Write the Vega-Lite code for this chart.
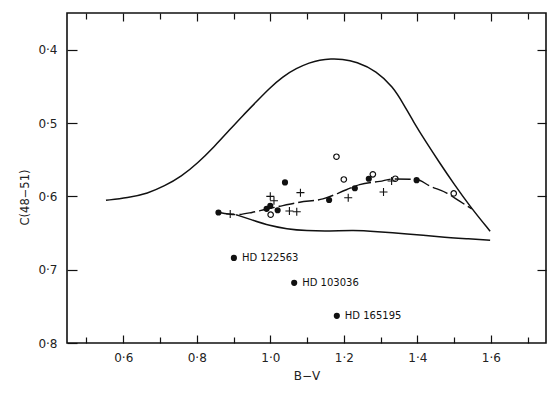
{
  "$schema": "https://vega.github.io/schema/vega-lite/v6.json",
  "width": 479,
  "height": 330,
  "autosize": {"type": "none"},
  "padding": {"left": 67, "top": 13, "right": 14, "bottom": 51},
  "background": "white",
  "config": {
    "font": "DejaVu Sans",
    "view": {"stroke": "#111", "strokeWidth": 1.6},
    "axis": {
      "labelFont": "DejaVu Sans",
      "titleFont": "DejaVu Sans",
      "labelColor": "#222",
      "titleColor": "#222",
      "tickColor": "#111",
      "tickWidth": 1.2,
      "domain": false,
      "grid": false,
      "labelFontSize": 12,
      "titleFontSize": 12,
      "titleFontWeight": "normal"
    }
  },
  "datasets": {
    "upper": [
      {"bv": 0.553, "c": 0.6054}, {"bv": 0.612, "c": 0.602}, {"bv": 0.667, "c": 0.596},
      {"bv": 0.712, "c": 0.586}, {"bv": 0.758, "c": 0.573}, {"bv": 0.803, "c": 0.5545},
      {"bv": 0.848, "c": 0.532}, {"bv": 0.890, "c": 0.509}, {"bv": 0.925, "c": 0.490},
      {"bv": 0.962, "c": 0.471}, {"bv": 0.998, "c": 0.4525}, {"bv": 1.034, "c": 0.4367},
      {"bv": 1.071, "c": 0.4253}, {"bv": 1.107, "c": 0.4177}, {"bv": 1.134, "c": 0.414},
      {"bv": 1.165, "c": 0.4125}, {"bv": 1.195, "c": 0.4128},
      {"bv": 1.234, "c": 0.4163}, {"bv": 1.289, "c": 0.429}, {"bv": 1.334, "c": 0.451},
      {"bv": 1.361, "c": 0.473}, {"bv": 1.389, "c": 0.498}, {"bv": 1.425, "c": 0.527},
      {"bv": 1.461, "c": 0.5545}, {"bv": 1.498, "c": 0.582}, {"bv": 1.543, "c": 0.6136},
      {"bv": 1.598, "c": 0.6476}
    ],
    "lower": [
      {"bv": 0.907, "c": 0.625}, {"bv": 0.953, "c": 0.6327}, {"bv": 0.998, "c": 0.640},
      {"bv": 1.044, "c": 0.6444}, {"bv": 1.098, "c": 0.647}, {"bv": 1.162, "c": 0.6476},
      {"bv": 1.225, "c": 0.6462}, {"bv": 1.289, "c": 0.648}, {"bv": 1.371, "c": 0.651},
      {"bv": 1.461, "c": 0.6553}, {"bv": 1.543, "c": 0.658}, {"bv": 1.598, "c": 0.6599}
    ],
    "mean": [
      {"bv": 0.862, "c": 0.622}, {"bv": 0.907, "c": 0.625}, {"bv": 0.950, "c": 0.622},
      {"bv": 0.985, "c": 0.618}, {"bv": 1.025, "c": 0.6136}, {"bv": 1.080, "c": 0.608},
      {"bv": 1.143, "c": 0.6035}, {"bv": 1.207, "c": 0.591}, {"bv": 1.243, "c": 0.584},
      {"bv": 1.298, "c": 0.5796}, {"bv": 1.334, "c": 0.5763}, {"bv": 1.398, "c": 0.577},
      {"bv": 1.434, "c": 0.586}, {"bv": 1.480, "c": 0.5955}, {"bv": 1.516, "c": 0.607},
      {"bv": 1.548, "c": 0.617}
    ],
    "stars": [
      {"bv": 0.859, "c": 0.622, "type": "filled", "label": ""},
      {"bv": 0.990, "c": 0.617, "type": "filled", "label": ""},
      {"bv": 1.000, "c": 0.613, "type": "filled", "label": ""},
      {"bv": 1.020, "c": 0.619, "type": "filled", "label": ""},
      {"bv": 1.040, "c": 0.581, "type": "filled", "label": ""},
      {"bv": 1.160, "c": 0.605, "type": "filled", "label": ""},
      {"bv": 1.230, "c": 0.589, "type": "filled", "label": ""},
      {"bv": 1.268, "c": 0.576, "type": "filled", "label": ""},
      {"bv": 1.398, "c": 0.578, "type": "filled", "label": ""},
      {"bv": 0.901, "c": 0.684, "type": "filled", "label": "HD 122563"},
      {"bv": 1.065, "c": 0.718, "type": "filled", "label": "HD 103036"},
      {"bv": 1.181, "c": 0.763, "type": "filled", "label": "HD 165195"},
      {"bv": 1.001, "c": 0.625, "type": "open", "label": ""},
      {"bv": 1.180, "c": 0.546, "type": "open", "label": ""},
      {"bv": 1.200, "c": 0.577, "type": "open", "label": ""},
      {"bv": 1.279, "c": 0.570, "type": "open", "label": ""},
      {"bv": 1.340, "c": 0.576, "type": "open", "label": ""},
      {"bv": 1.499, "c": 0.596, "type": "open", "label": ""},
      {"bv": 0.891, "c": 0.624, "type": "plus", "label": ""},
      {"bv": 1.000, "c": 0.600, "type": "plus", "label": ""},
      {"bv": 1.010, "c": 0.606, "type": "plus", "label": ""},
      {"bv": 1.052, "c": 0.620, "type": "plus", "label": ""},
      {"bv": 1.072, "c": 0.621, "type": "plus", "label": ""},
      {"bv": 1.082, "c": 0.595, "type": "plus", "label": ""},
      {"bv": 1.212, "c": 0.602, "type": "plus", "label": ""},
      {"bv": 1.308, "c": 0.594, "type": "plus", "label": ""},
      {"bv": 1.330, "c": 0.579, "type": "plus", "label": ""}
    ]
  },
  "resolve": {"scale": {"x": "shared", "y": "shared"}, "axis": {"x": "independent", "y": "independent"}},
  "layer": [
    {
      "data": {"name": "upper"},
      "mark": {"type": "line", "interpolate": "basis", "color": "#111", "strokeWidth": 1.5},
      "encoding": {
        "x": {"field": "bv", "type": "quantitative", "scale": {"domain": [0.447, 1.75], "nice": false, "zero": false},
          "axis": {"orient": "bottom", "values": [0.6, 0.8, 1.0, 1.2, 1.4, 1.6], "offset": -8, "tickSize": 8, "labelPadding": 9,
            "labelExpr": "replace(format(datum.value, '.1f'), '.', '·')", "title": "B−V", "titleY": 40, "titleBaseline": "middle"}},
        "y": {"field": "c", "type": "quantitative", "scale": {"domain": [0.35, 0.8], "reverse": true, "nice": false, "zero": false},
          "axis": {"orient": "left", "values": [0.4, 0.5, 0.6, 0.7, 0.8], "offset": -10, "tickSize": 10, "labelPadding": 10, "labelBaseline": "middle",
            "labelExpr": "replace(format(datum.value, '.1f'), '.', '·')", "title": "C(48−51)", "titleFontSize": 11.5, "titleX": -52, "titleY": 184,
            "titleAlign": "center", "titleBaseline": "middle", "titleAngle": 270}},
        "order": {"field": "bv"}
      }
    },
    {
      "data": {"name": "lower"},
      "mark": {"type": "line", "interpolate": "basis", "color": "#111", "strokeWidth": 1.5},
      "encoding": {
        "x": {"field": "bv", "type": "quantitative", "scale": {"domain": [0.447, 1.75], "nice": false, "zero": false},
          "axis": {"orient": "bottom", "values": [0.5, 0.7, 0.9, 1.1, 1.3, 1.5, 1.7], "offset": -6, "tickSize": 6, "labels": false, "title": null}},
        "y": {"field": "c", "type": "quantitative", "scale": {"domain": [0.35, 0.8], "reverse": true, "nice": false, "zero": false},
          "axis": {"orient": "right", "values": [0.4, 0.5, 0.6, 0.7], "offset": -9, "tickSize": 9, "labels": false, "title": null}},
        "order": {"field": "bv"}
      }
    },
    {
      "data": {"name": "mean"},
      "mark": {"type": "line", "interpolate": "monotone", "color": "#111", "strokeWidth": 1.4, "strokeDash": [16, 4]},
      "encoding": {
        "x": {"field": "bv", "type": "quantitative", "scale": {"domain": [0.447, 1.75], "nice": false, "zero": false},
          "axis": {"orient": "top", "values": [0.6, 0.8, 1.0, 1.2, 1.4, 1.6], "offset": -8, "tickSize": 8, "labels": false, "title": null}},
        "y": {"field": "c", "type": "quantitative", "scale": {"domain": [0.35, 0.8], "reverse": true, "nice": false, "zero": false}, "axis": null},
        "order": {"field": "bv"}
      }
    },
    {
      "data": {"name": "stars"},
      "transform": [{"filter": "datum.type === 'filled'"}],
      "mark": {"type": "point", "shape": "circle", "filled": true, "color": "#111", "size": 38, "opacity": 1},
      "encoding": {
        "x": {"field": "bv", "type": "quantitative", "scale": {"domain": [0.447, 1.75], "nice": false, "zero": false},
          "axis": {"orient": "top", "values": [0.5, 0.7, 0.9, 1.1, 1.3, 1.5, 1.7], "offset": -6, "tickSize": 6, "labels": false, "title": null}},
        "y": {"field": "c", "type": "quantitative", "scale": {"domain": [0.35, 0.8], "reverse": true, "nice": false, "zero": false}, "axis": null}
      }
    },
    {
      "data": {"name": "stars"},
      "transform": [{"filter": "datum.type === 'open'"}],
      "mark": {"type": "point", "shape": "circle", "filled": false, "color": "#111", "size": 30, "strokeWidth": 1.2, "opacity": 1},
      "encoding": {
        "x": {"field": "bv", "type": "quantitative", "scale": {"domain": [0.447, 1.75], "nice": false, "zero": false}, "axis": null},
        "y": {"field": "c", "type": "quantitative", "scale": {"domain": [0.35, 0.8], "reverse": true, "nice": false, "zero": false}, "axis": null}
      }
    },
    {
      "data": {"name": "stars"},
      "transform": [{"filter": "datum.type === 'plus'"}],
      "mark": {"type": "point", "shape": "M-1,0H1M0,-1V1", "filled": false, "color": "#111", "size": 64, "strokeWidth": 1.1, "opacity": 1},
      "encoding": {
        "x": {"field": "bv", "type": "quantitative", "scale": {"domain": [0.447, 1.75], "nice": false, "zero": false}, "axis": null},
        "y": {"field": "c", "type": "quantitative", "scale": {"domain": [0.35, 0.8], "reverse": true, "nice": false, "zero": false}, "axis": null}
      }
    },
    {
      "data": {"name": "stars"},
      "transform": [{"filter": "datum.label !== ''"}],
      "mark": {"type": "text", "align": "left", "baseline": "middle", "dx": 8, "fontSize": 10, "color": "#111", "font": "DejaVu Sans"},
      "encoding": {
        "x": {"field": "bv", "type": "quantitative", "scale": {"domain": [0.447, 1.75], "nice": false, "zero": false}, "axis": null},
        "y": {"field": "c", "type": "quantitative", "scale": {"domain": [0.35, 0.8], "reverse": true, "nice": false, "zero": false}, "axis": null},
        "text": {"field": "label"}
      }
    }
  ]
}
